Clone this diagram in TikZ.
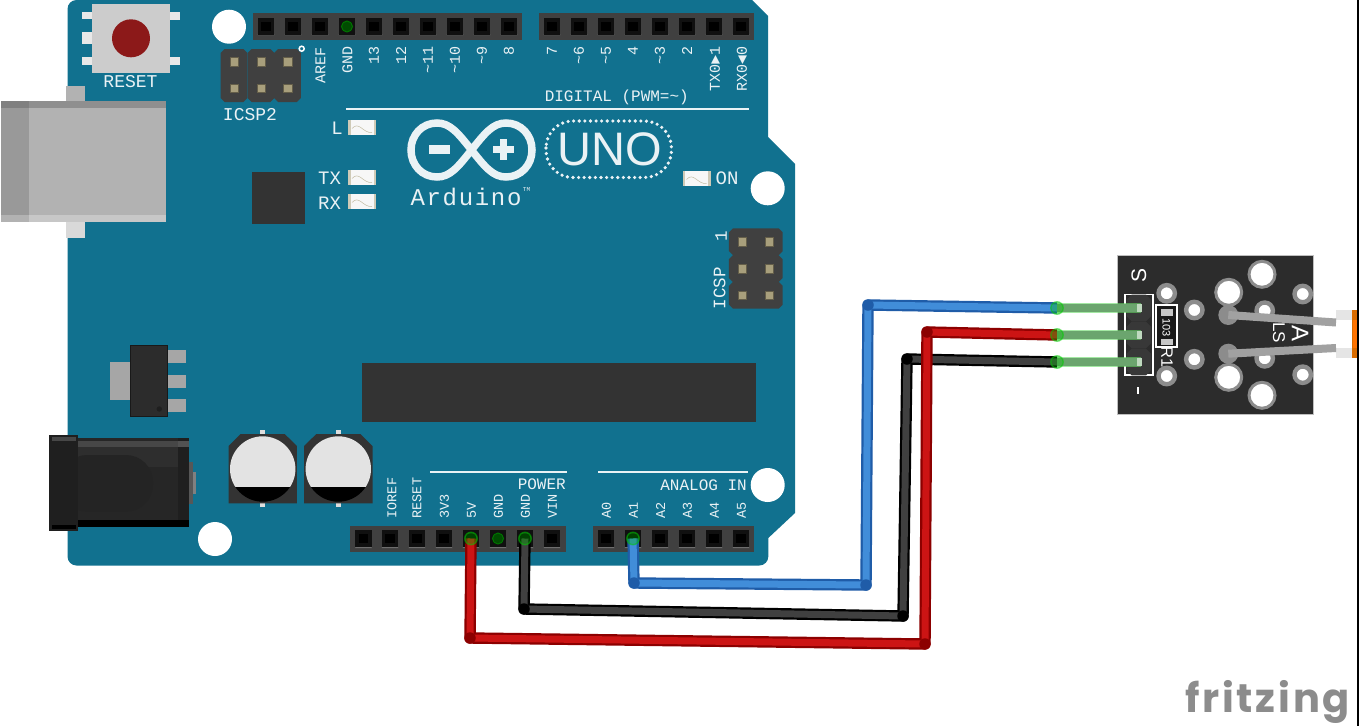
\documentclass[tikz,border=0pt]{standalone}
\usepackage{fontspec}
\usepackage{xcolor}
\newfontfamily\boardfont{Liberation Mono}
\newfontfamily\arduinofont[LetterSpace=7]{Liberation Mono}
\newfontfamily\unofont{Liberation Sans}
\newfontfamily\fritzfont[LetterSpace=7]{Poppins}
\newcommand{\pwm}{\char126\relax}
\definecolor{boardcol}{HTML}{11718F}
\definecolor{bodycol}{HTML}{404040}
\definecolor{chipcol}{HTML}{333333}
\definecolor{pincol}{HTML}{A89F7C}
\definecolor{modcol}{HTML}{2C2C2C}
\definecolor{ringcol}{HTML}{8C8C8C}
\definecolor{legcol}{HTML}{6BA56E}
\definecolor{labelcol}{HTML}{EAF2F5}
\definecolor{blueout}{HTML}{1F5CA8}
\definecolor{bluein}{HTML}{418DD9}
\definecolor{redout}{HTML}{8C0000}
\definecolor{redin}{HTML}{CC1414}
\tikzset{
	hole/.style={circle,fill=white,inner sep=0pt,minimum size=34pt},
	hdrpin/.style={rectangle,fill=black,draw=bodycol!125!white,line width=3.2pt,inner sep=0pt,minimum size=13pt},
	tanpin/.style={rectangle,fill=pincol,draw=pincol!60!black,line width=.4pt,inner sep=0pt,minimum size=8.5pt},
	toplabel/.style={rotate=90,anchor=east,inner sep=0pt,text=labelcol,font=\boardfont\fontsize{15}{15}\selectfont},
	botlabel/.style={rotate=90,anchor=west,inner sep=0pt,text=labelcol,font=\boardfont\fontsize{13.5}{13.5}\selectfont},
	flatlabel/.style={inner sep=0pt,text=labelcol,font=\boardfont\fontsize{#1}{#1}\selectfont},
	modlabel/.style={rotate=-90,inner sep=0pt,text=white,font=\unofont\fontsize{#1}{#1}\selectfont},
	wire/.style 2 args={draw=#1,double=#2,line width=2.2pt,double distance=7pt,line join=round},
	joint/.style={circle,fill=#1,inner sep=0pt,minimum size=11.5pt},
	connected/.style={circle,fill=green!75!black,fill opacity=.35,draw=green!80!black,draw opacity=.5,line width=1.4pt,inner sep=0pt,minimum size=12.5pt},
	smallpad/.style={circle,fill=white,draw=ringcol,line width=4.4pt,inner sep=0pt,minimum size=16.4pt},
	bigpad/.style={circle,fill=white,draw=ringcol,line width=3pt,inner sep=0pt,minimum size=26pt},
	solder/.style={circle,fill=ringcol,inner sep=0pt,minimum size=20pt},
	lead/.style={draw=black!37,line width=8pt},
	leg/.style={draw=legcol,line width=8pt}
}
\newcommand{\chambody}[6]{
	\fill[#6] (#1-#3/2+#5,#2-#4/2) -- (#1+#3/2-#5,#2-#4/2) -- (#1+#3/2,#2-#4/2+#5) -- (#1+#3/2,#2+#4/2-#5) -- (#1+#3/2-#5,#2+#4/2) -- (#1-#3/2+#5,#2+#4/2) -- (#1-#3/2,#2+#4/2-#5) -- (#1-#3/2,#2-#4/2+#5) -- cycle;
}
\newcommand{\boardled}[3]{
	\fill[black!3] (#2-14,#3-7.5) rectangle (#2+14,#3+7.5);
	\fill[pincol!55!white] (#2-14,#3-7.5) rectangle (#2-11.5,#3+7.5);
	\fill[pincol!55!white] (#2+11.5,#3-7.5) rectangle (#2+14,#3+7.5);
	\draw[pincol!70!white,line width=.5pt] (#2-10,#3+1) .. controls (#2-3,#3-7) and (#2+1,#3+6) .. (#2+10,#3+5);
	\coordinate (#1) at (#2,#3);
}
\begin{document}
\begin{tikzpicture}[x=1pt,y=-1pt]
	\useasboundingbox (0,0) rectangle (1359,726);
	\fill[white] (0,0) rectangle (1359,726);
	\fill[boardcol] (100,0) -- (752,0) -- (768,16) -- (768,137) -- (795,164) -- (795,513) -- (768.3,538) [rounded corners=9pt] -- (768.3,565.5) -- (67.5,565.5) -- (67.5,0) -- (100,0) -- cycle;
	\node[hole] (holeA) at (229,26.7) {};
	\node[hole] (holeB) at (767.7,188.3) {};
	\node[hole] (holeC) at (215,539) {};
	\node[hole] (holeD) at (767.7,485) {};

	% reset button
	\foreach \y/\h in {15.5/7.6,38.2/11.7,61.3/8} {
		\fill[black!9] (82.3,\y-\h/2) rectangle (92.5,\y+\h/2);
	}
	\foreach \y/\h in {15.5/8,61.3/8} {
		\fill[black!9] (169.5,\y-\h/2) rectangle (180,\y+\h/2);
	}
	\fill[black!20] (92.3,4) rectangle (169.7,73);
	\node[circle,fill=red!50!black!90,inner sep=0pt,minimum size=38pt] (resetbtn) at (131,38.3) {};
	\node[flatlabel=18] (resetlbl) at (130.5,81.5) {RESET};

	% usb
	\fill[black!30] (66,86) rectangle (84.5,101);
	\fill[black!15] (66,222) rectangle (84.5,237.5);
	\fill[black!30] (1,101) rectangle (166.3,222);
	\fill[black!40] (1,101) rectangle (29,222);
	\fill[black!44] (29,101) rectangle (166.3,108.3);
	\fill[black!50] (1,101) rectangle (29,108.3);
	\fill[black!22] (29,215) rectangle (166.3,222);
	\fill[black!30] (1,215) rectangle (29,222);

	% top headers
	\fill[bodycol] (253,13) rectangle (522,40);
	\fill[bodycol] (539,13) rectangle (754,40);
	\foreach \x/\pname in {266/scl,293/sda,320/aref,347/gndD,374/d13,401/d12,428/d11,455/d10,482/d9,509/d8,552/d7,579/d6,606/d5,633/d4,660/d3,687/d2,714/d1,741/d0} {
		\fill[black!57] (\x-8.5,35) -- (\x+8.5,35) -- (\x+5,31) -- (\x-5,31) -- cycle;
		\node[hdrpin] (p\pname) at (\x,26.5) {};
	}
	\node[circle,fill=green!30!black,draw=green!45!black,line width=1pt,inner sep=0pt,minimum size=11pt] (busd) at (pgndD) {};

	\node[toplabel] (lblaref) at (320.5,47) {AREF};
	\foreach \x/\txt in {347.5/GND,374/13,401/12,428/\pwm 11,455/\pwm 10,482/\pwm 9,509/8,552/7,579/\pwm 6,606/\pwm 5,633/4,660/\pwm 3,687/2,715/TX0►1,742/RX0◄0} {
		\node[toplabel] (lbl\x) at (\x,46) {\txt};
	}
	\node[flatlabel=16,anchor=east] (lbldigital) at (689,97) {DIGITAL (PWM=\pwm)};
	\fill[labelcol] (346,108) rectangle (749,110);

	% icsp2
	\foreach \x in {234,261,287.5} {
		\chambody{\x}{75.5}{26.8}{53}{4}{bodycol}
		\node[tanpin] (icspiia\x) at (\x,61.7) {};
		\node[tanpin] (icspiib\x) at (\x,88.3) {};
	}
	\node[circle,fill=boardcol,draw=white,line width=1.5pt,inner sep=0pt,minimum size=5pt] (icspiidot) at (301.7,48.7) {};
	\node[flatlabel=18] (lblicspii) at (250,114.5) {ICSP2};

	% leds and chip
	\boardled{ledl}{362}{127.5}
	\boardled{ledtx}{362}{177.5}
	\boardled{ledrx}{362}{201.5}
	\boardled{ledon}{696.5}{178.5}
	\node[flatlabel=19] (lbll) at (337,128) {L};
	\node[flatlabel=19] (lbltx) at (329.5,178) {TX};
	\node[flatlabel=19] (lblrx) at (329.5,203) {RX};
	\node[flatlabel=19] (lblon) at (727,178) {ON};
	\fill[chipcol] (252,172) rectangle (305,224);

	% logo
	\draw[labelcol,line width=7.5pt] (471.5,150) .. controls (458,133) and (450,123) .. (437,123) .. controls (422,123) and (411,135) .. (411,150) .. controls (411,165) and (422,177) .. (437,177) .. controls (450,177) and (458,167) .. (471.5,150) .. controls (485,133) and (493,123) .. (506,123) .. controls (521,123) and (532,135) .. (532,150) .. controls (532,165) and (521,177) .. (506,177) .. controls (493,177) and (485,167) .. (471.5,150) -- cycle;
	\fill[labelcol] (429,144.5) rectangle (450,153.5);
	\fill[labelcol] (492.7,145.5) rectangle (514,152.5);
	\fill[labelcol] (499.8,138.5) rectangle (506.9,160);
	\node[inner sep=0pt,text=labelcol,font=\arduinofont\fontsize{24}{24}\selectfont] (lblarduino) at (466,197) {Arduino};
	\node[inner sep=0pt,text=labelcol,font=\boardfont\fontsize{6}{6}\selectfont] (lbltm) at (526.5,190) {TM};
	\node[inner sep=0pt,text=labelcol,font=\unofont\fontsize{47}{47}\selectfont] (lbluno) at (610,149) {UNO};
	\draw[labelcol,line width=3.6pt,line cap=round,dash pattern=on 0pt off 5.6pt,rounded corners=27pt] (546,121) rectangle (671.5,177.5);

	% icsp
	\foreach \y in {241.7,268.6,295.3} {
		\chambody{755.8}{\y}{53.7}{26.8}{4}{bodycol}
		\node[tanpin] (icspa\y) at (742.3,\y) {};
		\node[tanpin] (icspb\y) at (769,\y) {};
	}
	\node[flatlabel=17.5,rotate=90] (lblicsp) at (719.5,288) {ICSP};
	\node[flatlabel=17.5,rotate=90] (lblone) at (721,236) {1};

	% regulator
	\fill[black!35] (110,362.3) rectangle (130,400.3);
	\foreach \y in {350,375,399.3} {
		\fill[black!35] (167.7,\y) rectangle (186,\y+13);
	}
	\fill[modcol] (130,345) rectangle (167.7,417.3);
	\draw[black!90,line width=1pt] (130.5,345.5) rectangle (167.2,416.8);
	\node[circle,fill=black!88,inner sep=0pt,minimum size=5.4pt] (regdot) at (159.3,409) {};
	\fill[chipcol] (362.3,362.5) rectangle (756,421.5);

	% barrel jack
	\fill[black!66] (189,461.7) rectangle (193,504);
	\fill[black!50] (193,472.3) rectangle (196,494);
	\fill[black!85] (78,438.3) rectangle (189,527);
	\fill[black!72] (78,441) rectangle (189,446.7);
	\fill[black!82] (78,446.7) rectangle (189,467);
	\fill[black] (78,520) rectangle (189,527);
	\fill[black!86,rounded corners=27pt] (60,455) rectangle (153,511.7);
	\fill[black!88] (178.3,438.3) rectangle (189,527);
	\fill[black!68] (178.3,441) rectangle (189,446.7);
	\fill[black] (178.3,520) rectangle (189,527);
	\fill[black!88] (49.3,435.3) rectangle (78,530.7);
	\fill[black!72] (51.7,437) rectangle (75.7,441);
	\fill[black] (51.7,525.3) rectangle (75.7,529.3);

	% capacitors
	\foreach \x in {262.7,338.3} {
		\fill[black!13] (\x-2.5,430) rectangle (\x+2.5,507);
		\fill[chipcol] (\x-34.2,446) -- (\x-22,434) -- (\x+22,434) -- (\x+34.2,446) -- (\x+34.2,503.3) -- (\x-34.2,503.3) -- cycle;
		\begin{scope}
			\clip (\x,469) circle (32.7pt);
			\fill[black!11] (\x-34,435) rectangle (\x+34,487.3);
			\fill[black] (\x-34,487.3) rectangle (\x+34,503);
		\end{scope}
	}

	% bottom headers
	\fill[bodycol] (350,525.7) rectangle (566,552);
	\fill[bodycol] (593,525.7) rectangle (754,552);
	\foreach \x/\pname in {363.5/nc,390/ioref,417/reset,444/vthree,471/vfive,498/gndA,525/gndB,552/vin,606/aZero,633/aOne,660/aTwo,687/aThree,714/aFour,741/aFive} {
		\fill[black!57] (\x-8.5,548) -- (\x+8.5,548) -- (\x+5,544) -- (\x-5,544) -- cycle;
		\node[hdrpin] (p\pname) at (\x,538.5) {};
	}
	\node[circle,fill=green!30!black,draw=green!45!black,line width=1pt,inner sep=0pt,minimum size=11pt] (busa) at (pgndA) {};
	\foreach \x/\txt in {392/IOREF,417/RESET,444.5/3V3,471.5/5V,498.5/GND,525.5/GND,552.5/VIN,606.5/A0,633.5/A1,660.5/A2,687.5/A3,714.5/A4,741.5/A5} {
		\node[botlabel] (lb\x) at (\x,518.5) {\txt};
	}
	\fill[labelcol] (430,471) rectangle (566.7,473);
	\fill[labelcol] (597.7,471) rectangle (748,473);
	\node[flatlabel=16,anchor=east] (lblpower) at (566,484.5) {POWER};
	\node[flatlabel=16,anchor=east] (lblanalog) at (747,485) {ANALOG IN};

	% sensor module
	\node[rectangle,fill=modcol,draw=black!25,line width=.5pt,inner sep=0pt,minimum width=196.3pt,minimum height=159pt] (sensor) at (1215.2,334.5) {};
	\draw[white,line width=1.8pt] (1124.8,294.5) rectangle (1152.8,375);
	\foreach \y in {308,335,362} {
		\chambody{1138.8}{\y}{24.5}{26.6}{5}{black!78}
	}
	\foreach \x/\y in {1166.7/293.3,1194.3/310,1194.3/359.3,1166.7/376,1302.7/294,1302.7/374.7,1264.7/310.7,1264.7/358.3} {
		\node[smallpad] (pad\x-\y) at (\x,\y) {};
	}
	\foreach \x/\y in {1228.7/292.3,1262/274.3,1228.7/377.3,1262/395.3} {
		\node[bigpad] (pad\x-\y) at (\x,\y) {};
	}
	\node[solder] (padA) at (1228.3,315) {};
	\node[solder] (padB) at (1228.3,353.7) {};
	\node[rectangle,fill=black!90,draw=white,line width=2pt,inner sep=0pt,minimum width=21pt,minimum height=41.4pt] (rone) at (1166.3,326) {};
	\fill[black!22] (1160.7,308.5) rectangle (1172.7,316);
	\fill[black!22] (1160.7,338.5) rectangle (1172.7,345);
	\node[modlabel=11] (lblres) at (1166.3,327.3) {103};
	\node[modlabel=16.5] (lblrone) at (1167,357.5) {R1};
	\node[rotate=90,inner sep=0pt,text=white,font=\unofont\fontsize{21}{21}\selectfont] (lbls) at (1139,275) {S};
	\fill[white] (1137.2,387) rectangle (1139.4,393.5);
	\node[modlabel=24] (lbla) at (1300,333.5) {A};
	\node[modlabel=17] (lblls) at (1279,332.5) {LS};

	% photoresistor
	\fill[black!10] (1335.7,310) rectangle (1351.7,320);
	\fill[black!10] (1335.7,348.3) rectangle (1351.7,358.3);
	\draw[lead] (padA.center) -- (1336,322.5);
	\draw[lead] (padB.center) -- (1336,348);
	\fill[orange!85!black] (1351.7,310) rectangle (1356.7,358.3);
	\fill[orange!90!red] (1353,320) rectangle (1356.7,348.3);

	% wires
	\coordinate (legS) at (1057,308);
	\coordinate (legV) at (1057,335);
	\coordinate (legG) at (1057,362);
	\coordinate (blueA) at (634,583);
	\coordinate (blueB) at (866,585);
	\coordinate (blueC) at (868,305);
	\coordinate (blackA) at (524,609);
	\coordinate (blackB) at (903,616);
	\coordinate (blackC) at (907,359);
	\coordinate (redA) at (470,638);
	\coordinate (redB) at (925,644);
	\coordinate (redC) at (927,332);

	\draw[wire={black}{bodycol}] (pgndB.center) -- (blackA) -- (blackB) -- (blackC) -- (legG);
	\draw[wire={blueout}{bluein}] (paOne.center) -- (blueA) -- (blueB) -- (blueC) -- (legS);
	\draw[wire={redout}{redin}] (pvfive.center) -- (redA) -- (redB) -- (redC) -- (legV);
	\foreach \c in {blackA,blackB,blackC} { \node[joint=black] (j\c) at (\c) {}; }
	\foreach \c in {blueA,blueB,blueC} { \node[joint=blueout] (j\c) at (\c) {}; }
	\foreach \c in {redA,redB,redC} { \node[joint=redout] (j\c) at (\c) {}; }

	% legs
	\foreach \y/\leg in {308/legS,335/legV,362/legG} {
		\coordinate (tip\leg) at (1141,\y);
		\draw[draw=green!75!black!60!white,line width=10pt,opacity=.6] (\leg) -- (tip\leg);
		\draw[leg] (\leg) -- (tip\leg);
		\fill[green!40!black!25!white] (1137,\y-4) rectangle (1142,\y+4);
	}
	\node[connected] (cA) at (paOne) {};
	\node[connected] (cB) at (pvfive) {};
	\node[connected] (cC) at (pgndB) {};
	\node[connected] (cD) at (legS) {};
	\node[connected] (cE) at (legV) {};
	\node[connected] (cF) at (legG) {};

	% fritzing
	\node[anchor=base west,inner sep=0pt,text=black!45,font=\fritzfont\bfseries\fontsize{40}{40}\selectfont] (lblfritz) at (1185,712) {fritzing};
	\fill[black] (1356.7,0) rectangle (1359,726);
\end{tikzpicture}
\end{document}
